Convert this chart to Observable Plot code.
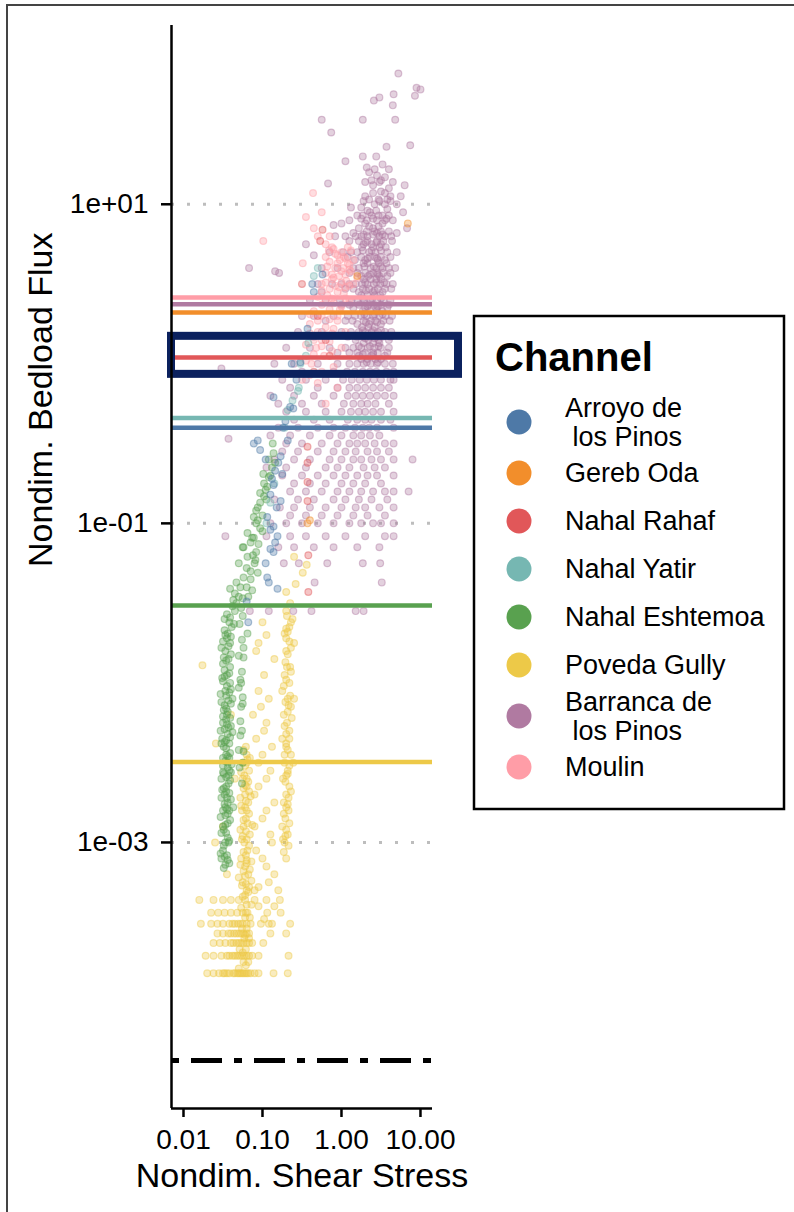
<!DOCTYPE html>
<html><head><meta charset="utf-8">
<script src="https://cdn.jsdelivr.net/npm/d3@7"></script>
<script src="https://cdn.jsdelivr.net/npm/@observablehq/plot@0.6"></script>
<style>
body{margin:0;background:#fff;}
#wrap{position:relative;width:794px;height:1212px;overflow:hidden;font-family:"Liberation Sans",Arial,sans-serif;}
#border{position:absolute;left:6px;top:4px;width:2000px;height:2000px;border-left:2px solid #444;border-top:2px solid #444;}
#chart{position:absolute;left:0;top:0;}
#legend{position:absolute;left:0;top:0;}
</style></head><body>
<div id="wrap"><div id="border"></div><div id="chart"></div><svg id="legend" width="794" height="1212"></svg></div>
<script>
// ---- categories & colours ----
const channels = ["Arroyo de los Pinos","Gereb Oda","Nahal Rahaf","Nahal Yatir","Nahal Eshtemoa","Poveda Gully","Barranca de los Pinos","Moulin"];
const legendLabels = [["Arroyo de"," los Pinos"],["Gereb Oda"],["Nahal Rahaf"],["Nahal Yatir"],["Nahal Eshtemoa"],["Poveda Gully"],["Barranca de"," los Pinos"],["Moulin"]];
const channelColors = ["#4e79a7","#f28e2b","#e15759","#76b7b2","#59a14f","#edc948","#b07aa1","#ff9da7"];
// horizontal reference lines (nondim. bedload flux), one per channel
const channelLineFlux = [0.398, 2.10, 1.094, 0.457, 0.0306, 0.00319, 2.36, 2.60];
const detectionFlux = 4.3e-5;          // dot-dash line
const highlightBox = {x1: 0.00705, x2: 30.3, y1: 0.859, y2: 1.487};
// ticks
const xTicks = [0.01, 0.1, 1, 10];
const xTickLabels = ["0.01","0.10","1.00","10.00"];
const yTicks = [10, 0.1, 0.001];
const yTickLabels = ["1e+01","1e-01","1e-03"];
const xDomain = [0.00705, 14.2];
const yDomain = [2.15e-5, 132];

// ---- points: each row = [log10 flux, log10 shear stress, log10 shear stress, ...] ----
const arroyo = [[0.56,-0.24],[0.50,-0.37],[0.45,-0.35],[0.22,-0.43],[0.01,-0.52],[0.0,-0.63],[-0.10,-0.57],[-0.21,-0.86],[-0.27,-0.65],[-0.28,-0.61],[-0.36,-0.71],[-0.48,-1.06,-0.68],[-0.50,-1.11],[-0.54,-1.03],[-0.58,-0.77],[-0.60,-0.96],[-0.67,-0.84],[-0.69,-0.75],[-0.76,-0.86],[-0.82,-0.90],[-0.86,-0.77],[-0.96,-0.94],[-1.02,-0.86],[-1.04,-0.90],[-1.08,-0.81],[-1.16,-0.90],[-1.18,-0.86],[-1.34,-0.94],[-1.37,-0.92],[-1.41,-0.81],[-1.49,-1.20],[-1.62,-1.18],[-0.40,-0.74],[-0.62,-0.80],[-0.72,-0.88],[-0.90,-0.82],[-1.12,-0.84],[-1.25,-0.96]];
const gereb = [[0.88,0.84],[-1.0,-0.43],[-0.98,-0.40],[0.55,0.2]];
const rahaf = [[0.84,-0.24],[0.77,-0.27],[0.5,-0.5],[0.3,-0.3],[0.15,-0.2],[0.05,-0.15],[-0.05,-0.35],[-0.52,-0.43],[-0.62,-0.43],[-0.74,-0.43],[-0.86,-0.43],[-1.2,-0.42],[-1.43,-0.42]];
const yatir = [[0.6,-0.3],[0.55,-0.35],[0.13,-0.42],[0.05,-0.45],[0.0,-0.52],[-0.15,-0.54],[-0.17,-0.55],[-0.23,-0.62],[-0.29,-0.68],[-0.4,-0.72],[-0.75,-0.85],[-0.87,-0.9],[-1.0,-0.95]];
const eshtemoa = [[-0.50,-0.87],[-0.56,-0.86],[-0.60,-0.92],[-0.62,-0.84],[-0.69,-0.99],[-0.70,-0.9],[-0.71,-0.92],[-0.77,-0.94],[-0.79,-0.96],[-0.81,-1.03],[-0.85,-0.95],[-0.87,-1.03],[-0.90,-1.06],[-0.95,-1.0],[-0.96,-1.11],[-0.98,-1.06],[-1.03,-1.03],[-1.05,-1.0],[-1.06,-1.19],[-1.09,-1.13,-1.11],[-1.13,-1.05],[-1.15,-1.24,-1.25],[-1.18,-1.08],[-1.21,-1.19],[-1.23,-1.09],[-1.25,-1.30,-1.1],[-1.30,-1.15],[-1.31,-1.06],[-1.34,-1.24],[-1.35,-1.15],[-1.40,-1.28,-1.2],[-1.41,-1.41],[-1.42,-1.13],[-1.46,-1.30,-1.18],[-1.48,-1.37],[-1.50,-1.33],[-1.55,-1.35],[-1.58,-1.25],[-1.59,-1.41],[-1.62,-1.42],[-1.65,-1.39],[-1.69,-1.44,-1.19],[-1.72,-1.45],[-1.75,-1.41],[-1.78,-1.24,-1.52],[-1.80,-1.47],[-1.84,-1.49,-1.24],[-1.88,-1.5],[-1.90,-1.41],[-1.95,-1.45],[-1.97,-1.51],[-1.98,-1.28],[-2.00,-1.41,-1.27],[-2.05,-1.47],[-2.07,-1.53],[-2.09,-1.25],[-2.11,-1.43],[-2.14,-1.48],[-2.15,-1.27],[-2.17,-1.49],[-2.20,-1.45],[-2.22,-1.41],[-2.24,-1.28],[-2.25,-1.5],[-2.28,-1.43],[-2.30,-1.53,-1.26],[-2.34,-1.41],[-2.35,-1.51],[-2.36,-1.46],[-2.40,-1.49],[-2.42,-1.30],[-2.44,-1.41],[-2.45,-1.46],[-2.50,-1.44,-1.25],[-2.52,-1.5],[-2.55,-1.42],[-2.57,-1.49],[-2.60,-1.52],[-2.61,-1.41],[-2.65,-1.46],[-2.67,-1.51],[-2.70,-1.48],[-2.75,-1.44],[-2.78,-1.37,-1.47],[-2.82,-1.44],[-2.84,-1.53],[-2.86,-1.41],[-2.90,-1.5],[-2.92,-1.49],[-2.97,-1.44],[-3.00,-1.47],[-3.05,-1.5],[-3.07,-1.53],[-3.10,-1.52],[-3.11,-1.44],[-3.13,-1.42],[-3.16,-1.49],
[-1.52,-1.38],[-1.57,-1.45],[-1.63,-1.36],[-1.67,-1.48],[-1.71,-1.4],[-1.74,-1.5],[-1.77,-1.43],[-1.82,-1.4],[-1.86,-1.46],[-1.92,-1.48],[-1.94,-1.42],[-1.99,-1.5],[-2.02,-1.45],[-2.04,-1.4],[-2.08,-1.46],[-2.12,-1.52],[-2.13,-1.4],[-2.18,-1.44],[-2.21,-1.5],[-2.23,-1.46],[-2.27,-1.4],[-2.29,-1.48],[-2.32,-1.44],[-2.38,-1.42,-1.52],[-2.41,-1.46],[-2.47,-1.42,-1.5],[-2.49,-1.47],[-2.53,-1.44],[-2.56,-1.5,-1.4],[-2.59,-1.46],[-2.63,-1.43],[-2.66,-1.49],[-2.69,-1.42],[-2.72,-1.52,-1.45],[-2.76,-1.48],[-2.80,-1.42,-1.5],[-2.83,-1.47],[-2.88,-1.44],[-2.94,-1.46,-1.52],[-2.99,-1.42],[-3.02,-1.49],[-3.08,-1.45],[-3.14,-1.47],
[-1.53,-1.27],[-1.63,-1.29],[-1.73,-1.26],[-1.83,-1.3],[-1.93,-1.26],[-2.03,-1.3],[-2.13,-1.25],[-2.33,-1.28],[-2.43,-1.24],[-2.53,-1.29],[-2.63,-1.26],
[-0.65,-0.88],[-0.75,-0.98],[-0.83,-0.98],[-0.92,-1.08],[-1.0,-1.08],[-1.12,-1.15],[-1.20,-1.12],[-1.28,-1.2],[-1.37,-1.33],[-1.44,-1.35],[-1.47,-1.25],
[-1.60,-1.48],[-1.70,-1.47],[-1.85,-1.43],[-1.96,-1.48],[-2.06,-1.42],[-2.16,-1.46],[-2.26,-1.45],[-2.37,-1.48],[-2.46,-1.44],[-2.58,-1.43],[-2.68,-1.46],[-2.79,-1.45],[-2.89,-1.47],[-3.00,-1.43],[-3.09,-1.48],[-2.73,-1.4],[-2.51,-1.39],[-2.31,-1.38],[-2.10,-1.38]];
const poveda = [[-1.21,-0.6],[-1.26,-0.44],[-1.31,-0.49],[-1.38,-0.58],[-1.43,-0.7],[-1.50,-0.65],[-1.55,-0.7],[-1.60,-0.62],[-1.62,-1.0],[-1.65,-0.66],[-1.68,-0.68],[-1.70,-0.95],[-1.72,-0.7],[-1.75,-0.6],[-1.78,-0.64],[-1.80,-0.7,-1.08],[-1.85,-0.85],[-1.89,-1.76],[-1.90,-0.65],[-1.95,-0.72],[-2.00,-0.66],[-2.05,-1.05,-0.75],[-2.10,-0.92,-0.68],[-2.15,-0.64],[-2.20,-1.12,-0.73],[-2.25,-0.69],[-2.30,-0.98,-0.66],[-2.35,-0.75,-0.66],[-2.38,-1.59],[-2.40,-0.88,-0.7,-1.21],[-2.45,-0.64,-0.72,-1.2],[-2.48,-1.19],[-2.50,-1.05,-0.72,-1.25],[-2.55,-0.68,-1.17],[-2.58,-1.23,-0.7],[-2.60,-0.95,-0.74,-1.35,-1.25,-1.2],[-2.65,-0.66,-1.2],[-2.68,-1.17,-0.64],[-2.70,-1.1,-0.7,-1.22],[-2.72,-1.28],[-2.75,-0.85,-0.73,-1.18],[-2.78,-1.22,-0.7],[-2.80,-0.67,-1.26],[-2.85,-1.0,-0.71,-1.21],[-2.88,-1.19,-0.66],[-2.90,-0.75,-1.5,-1.24],[-2.92,-1.28],[-2.95,-0.9,-0.68,-1.16],[-2.98,-1.26,-0.74],[-3.00,-1.6,-0.72,-1.23],[-3.05,-1.08,-1.19],[-3.08,-1.21],[-3.10,-0.7,-1.27],[-3.12,-1.14],[-3.15,-0.95,-1.22],[-3.18,-1.24],[-3.20,-0.85,-1.45,-1.18],[-3.22,-1.3],[-3.25,-1.25],[-3.28,-1.05,-1.17],[-3.30,-0.8,-1.2],[-3.33,-1.22],
[-3.36,-1.8,-1.62,-1.5,-1.4,-1.3,-1.22,-1.1,-0.95,-0.78],
[-3.44,-1.65,-1.56,-1.48,-1.4,-1.32,-1.25,-1.19,-0.94,-0.77],
[-3.51,-1.78,-1.65,-1.57,-1.5,-1.42,-1.35,-1.28,-1.2,-1.15,-1.02,-0.92,-0.88,-0.65,-1.31,-1.25,-1.38],
[-3.57,-1.57,-1.5,-1.43,-1.36,-1.3,-1.24,-1.17,-0.9,-0.7,-1.27,-1.2,-1.33,-1.4],
[-3.63,-1.62,-1.54,-1.47,-1.4,-1.33,-1.27,-1.2,-1.13,-0.99,-1.3,-1.24,-1.17,-1.37],
[-3.71,-1.72,-1.62,-1.52,-1.45,-1.38,-1.32,-1.26,-1.2,-1.13,-1.05,-0.67,-1.35,-1.29,-1.23,-1.17,-1.42],
[-3.82,-1.7,-1.62,-1.55,-1.48,-1.42,-1.37,-1.32,-1.28,-1.24,-1.2,-1.15,-1.1,-1.05,-0.86,-0.68,-1.35,-1.3,-1.26,-1.22,-1.18,-1.45,-1.5],
[-2.42,-1.24],[-2.47,-1.16],[-2.52,-1.22],[-2.56,-1.27],[-2.62,-1.18],[-2.66,-1.24],[-2.71,-1.15],[-2.74,-1.21],[-2.77,-1.27],[-2.82,-1.17],[-2.86,-1.24],[-2.89,-1.13],[-2.93,-1.21],[-2.96,-1.25],[-3.02,-1.17],[-3.06,-1.24],[-3.11,-1.2],[-3.14,-1.28],[-3.17,-1.16],[-3.21,-1.22],[-3.24,-1.14],[-3.27,-1.26],[-3.31,-1.18],[-3.34,-1.25],[-3.39,-1.2,-1.14],[-3.41,-1.27],[-3.47,-1.22,-1.16],[-3.54,-1.2,-1.26],[-3.60,-1.23,-1.17],[-3.67,-1.21,-1.29],[-3.75,-1.24,-1.18],[-3.79,-1.3],
[-2.50,-1.2],[-2.64,-1.22],[-2.80,-1.2],[-2.98,-1.2],[-3.13,-1.2],[-3.26,-1.21],[-3.44,-1.21],[-3.58,-1.22],[-3.69,-1.25],[-3.77,-1.21],
[-1.58,-0.69],[-1.62,-0.64],[-1.69,-0.72],[-1.74,-0.66],[-1.82,-0.68],[-1.87,-0.71],[-1.93,-0.64],[-1.98,-0.7],[-2.02,-0.73],[-2.08,-0.65],[-2.12,-0.71],[-2.18,-0.68],[-2.22,-0.63],[-2.27,-0.72],[-2.32,-0.7],[-2.42,-0.68],[-2.52,-0.66],[-2.62,-0.71],[-2.72,-0.67],[-2.82,-0.73],[-2.92,-0.7],[-3.02,-0.67],[-3.06,-0.73],
[-1.66,-0.7],[-1.90,-0.69],[-2.14,-0.67],[-2.38,-0.7],[-2.57,-0.68],[-2.76,-0.68],[-2.96,-0.71],[-2.10,-0.6],[-2.50,-0.61],
[-2.45,-1.0],[-2.55,-0.9],[-2.65,-1.05],[-2.80,-0.95],[-2.90,-1.1],[-3.00,-0.88],[-3.10,-1.0],[-3.25,-0.92],[-3.30,-1.1],[-2.35,-1.08],[-2.25,-0.95],[-2.15,-1.02],[-1.95,-0.98],[-1.75,-1.05],[-3.40,-1.05,-0.85],[-3.48,-0.98],[-2.20,-1.4]];
const barranca = [[1.82,0.72],[1.73,0.95],[1.72,1.0],[1.69,0.66],[1.68,0.93],[1.67,0.48],[1.65,0.41],[1.62,0.65],[1.53,-0.25,0.27,0.68],[1.45,-0.13],[1.37,0.87],[1.36,0.57],[1.30,0.27,0.44],[1.27,0.05],[1.25,0.52],[1.23,0.32],[1.20,0.35],[1.18,0.45],[1.17,0.55],[1.13,-0.17],[1.12,0.4,0.8],[1.10,0.6],[1.08,0.5],[1.05,0.3,0.62,0.75],[1.00,0.42,0.55,0.7],[0.98,0.12,0.25],[0.97,0.58],[0.95,0.36,0.78],[0.93,0.2,0.47],[0.90,0.1,0.65],[0.88,0.0,0.3,0.52],[0.87,-0.1],[0.85,0.83,0.22,0.4],[0.82,0.7,0.15,0.45],[0.80,0.05,-0.08,0.18,0.25,0.33,0.48,0.55,0.63],[0.75,-0.45,0.28,0.38,0.5],[0.70,-0.15,0.02,0.12,0.2,0.35,0.43,0.58,0.7],[0.68,-0.35],[0.65,0.17,0.3,0.46,0.55],[0.60,-0.25,-0.05,0.15,0.22,0.37,0.44,0.52,0.6,0.68,-1.17],[0.58,-0.84],[0.57,-0.79],[0.55,0.25,0.34,0.48,0.58],[0.50,-0.3,-0.12,0.0,0.1,0.18,0.26,0.33,0.41,0.49,0.57,0.65],[0.45,-0.25,0.22,0.4,0.52],[0.40,-0.4,-0.2,-0.02,0.13,0.2,0.29,0.36,0.45,0.53,0.62],[0.35,0.15,0.3,0.44,0.58],[0.30,-0.5,-0.35,-0.1,0.08,0.17,0.25,0.32,0.4,0.48,0.56,0.64],[0.25,0.2,0.35,0.5],[0.20,-0.55,-0.25,0.0,0.12,0.22,0.3,0.38,0.46,0.55,0.63],[0.15,0.18,0.34,0.47,0.6],[0.10,-0.7,-0.4,-0.15,0.05,0.15,0.25,0.33,0.42,0.5,0.6],[0.05,0.22,0.38,0.55],[0.00,-0.85,-0.6,-0.3,-0.05,0.1,0.2,0.28,0.37,0.45,0.55,0.65],[-0.03,-1.52],[-0.10,-0.75,-0.45,-0.2,0.02,0.13,0.23,0.32,0.41,0.5,0.62,0.66],[-0.20,-0.9,-0.6,-0.35,-0.1,0.08,0.18,0.27,0.36,0.45,0.55,0.66],[-0.30,-0.7,-0.45,-0.2,0.0,0.12,0.22,0.3,0.4,0.5,0.66],[-0.40,-0.8,-0.55,-0.3,-0.1,0.05,0.17,0.27,0.35,0.45,0.66],[-0.47,-1.43],[-0.50,-0.7,-0.5,-0.25,-0.05,0.1,0.2,0.3,0.42,0.55,0.66],[-0.60,-0.85,-0.6,-0.4,-0.15,0.0,0.15,0.25,0.38,0.5,0.66,0.9],[-0.70,-0.75,-0.5,-0.3,-0.1,0.05,0.2,0.33,0.45,0.66],[-0.80,-0.65,-0.45,-0.25,-0.05,0.1,0.25,0.4,0.55,0.66,0.85],[-0.90,-0.78,-0.6,-0.4,-0.2,0.0,0.18,0.3,0.48,0.66],[-1.00,-0.9,-0.7,-0.5,-0.3,-0.1,0.1,0.25,0.4,0.5,0.66],[-1.08,-1.47,-0.95,-0.65,-0.45,-0.2,0.05,0.3,0.55,0.66],[-1.15,-0.8,-0.6,-0.35,-0.1,0.2,0.48],[-1.25,-0.73,-0.54,-0.18,0.27,0.49],[-1.37,-0.34,0.51],[-1.55,-1.16,-0.92,-0.61,-0.38,0.18,0.28],
[0.93,0.27,0.38,0.52,0.6],[0.83,0.32,0.42,0.5,0.6],[0.77,0.1,0.22,0.33,0.45,0.53,0.64],[0.73,0.26,0.4,0.48,0.56],[0.67,0.08,0.25,0.36,0.42,0.5,0.62],[0.63,0.28,0.33,0.47,0.57],[0.57,0.1,0.2,0.3,0.4,0.45,0.53,0.62],[0.53,0.28,0.37,0.44,0.5],[0.47,0.05,0.15,0.27,0.35,0.46,0.55,0.63],[0.43,0.25,0.33,0.42,0.49],[0.37,0.0,0.1,0.22,0.34,0.41,0.5,0.6],[0.33,0.27,0.36,0.45,0.52],[0.27,-0.2,0.05,0.14,0.28,0.37,0.43,0.53,0.61],[0.23,0.26,0.34,0.42],[0.17,-0.35,0.08,0.2,0.27,0.36,0.44,0.52,0.62],[0.13,0.28,0.4,0.48],[0.07,-0.05,0.1,0.2,0.3,0.4,0.46,0.58],[0.03,0.25,0.33,0.43,0.5],[-0.05,-0.5,-0.1,0.07,0.17,0.27,0.36,0.44,0.57,0.66],[-0.15,-0.65,-0.3,-0.05,0.1,0.2,0.3,0.4,0.5,0.6],[-0.25,-0.8,-0.5,-0.25,0.03,0.15,0.25,0.33,0.43,0.6],[-0.35,-0.6,-0.35,-0.15,0.08,0.2,0.3,0.38,0.5,0.62],[-0.45,-0.9,-0.65,-0.4,-0.15,0.0,0.15,0.25,0.36,0.48],[-0.55,-0.75,-0.55,-0.3,-0.1,0.05,0.18,0.33,0.45,0.6],[-0.65,-0.95,-0.7,-0.45,-0.2,-0.05,0.1,0.28,0.42,0.55],[-0.75,-0.6,-0.4,-0.2,0.0,0.15,0.3,0.5],[-0.85,-0.85,-0.55,-0.35,-0.1,0.05,0.22,0.38,0.58],[-0.95,-0.65,-0.45,-0.25,-0.05,0.15,0.33,0.55],[1.03,0.35,0.47,0.58],[1.15,0.38,0.5],[0.90,0.45,0.55,0.32],
[0.96,0.33,0.44],[0.91,0.25,0.4,0.57],[0.86,0.35,0.47],[0.81,0.28,0.4,0.52],[0.76,0.31,0.44],[0.71,0.27,0.38,0.5],[0.66,0.33,0.45],[0.61,0.29,0.41,0.5],[0.56,0.36,0.46],[0.51,0.3,0.44,0.54],[0.46,0.31,0.42],[0.41,0.27,0.39,0.5],[0.36,0.33,0.46],[0.31,0.29,0.42,0.52],[0.26,0.31,0.45],[0.21,0.27,0.4,0.5],[0.16,0.3,0.42],[0.11,0.22,0.36,0.47],[0.06,0.27,0.4],[0.01,0.32,0.46],[1.22,0.42,0.6],[1.14,0.3,0.48,0.65],[1.07,0.4,0.55],[1.02,0.48,0.62,0.28]];
const moulin = [[1.07,-0.36],[0.92,-0.45],[0.77,-0.99],[0.75,-0.2],[0.73,-0.12,0.08],[0.72,-0.1],[0.70,0.0],[0.68,-0.05],[0.66,0.05],[0.65,-0.02,0.15],[0.64,-0.15],[0.63,-0.49],[0.62,0.1],[0.60,-0.08,0.02],[0.58,0.0,0.12],[0.57,-0.2],[0.55,-0.03],[0.54,-0.1,0.2],[0.53,-0.12],[0.52,0.06],[0.50,-0.25,0.15],[0.48,0.05,-0.03],[0.47,-0.15],[0.45,-0.05],[0.44,0.03],[0.43,-0.18],[0.42,-0.3],[0.40,-0.2,0.1],[0.38,-0.1],[0.36,0.0],[0.33,-0.35],[0.30,-0.25,-0.05],[0.28,-0.15],[0.25,-0.4],[0.22,-0.1],[0.20,-0.3,0.05],[0.18,-0.2],[0.15,-0.35,-0.25],[0.12,-0.45],[0.10,-0.32,0.0],[0.08,-0.12],[0.05,-0.22],[0.02,-0.45],[0.00,-0.38],[-0.02,-0.1],[-0.05,-0.25],[-0.07,-0.4],[-0.10,-0.5],[-0.12,-0.3],[-0.15,-0.05],[-0.25,-0.2],
[0.71,-0.16,0.12],[0.69,-0.08],[0.67,0.03,-0.2],[0.63,-0.05,0.08],[0.61,-0.18],[0.59,0.1],[0.56,-0.12,0.05],[0.51,-0.2,0.0],[0.49,-0.08,0.1],[0.46,-0.25],[0.41,-0.12,0.05],[0.37,-0.25],[0.34,-0.15,-0.02],[0.31,-0.4],[0.27,-0.3,-0.05],[0.23,-0.2],[0.19,-0.4,-0.12],[0.14,-0.15],[0.11,-0.25],[0.06,-0.35],[0.80,-0.3,-0.15],[0.85,-0.35],[0.95,-0.25]];

const seriesRows = {"Barranca de los Pinos": barranca, "Poveda Gully": poveda, "Nahal Eshtemoa": eshtemoa, "Moulin": moulin, "Nahal Rahaf": rahaf, "Nahal Yatir": yatir, "Arroyo de los Pinos": arroyo, "Gereb Oda": gereb};
const points = Object.entries(seriesRows).flatMap(([name, rows]) =>
  rows.flatMap(([ly, ...lxs]) => lxs.map(lx => ({channel: name, tau: 10 ** lx, flux: 10 ** ly}))));
const lineRows = channels.map((c, i) => ({channel: c, flux: channelLineFlux[i]}));

const chart = Plot.plot({
  width: 480, height: 1212,
  marginLeft: 171, marginRight: 48, marginTop: 25, marginBottom: 104,
  style: {fontFamily: "'Liberation Sans', Arial, sans-serif", color: "black", background: "transparent"},
  x: {type: "log", domain: xDomain},
  y: {type: "log", domain: yDomain},
  color: {domain: channels, range: channelColors},
  marks: [
    Plot.gridY(yTicks, {stroke: "#bdbdbd", strokeOpacity: 1, strokeWidth: 3, strokeDasharray: "3,13"}),
    Plot.dot(points, {x: "tau", y: "flux", r: 3.4, fill: "channel", stroke: "channel", fillOpacity: 0.35, strokeOpacity: 0.45, strokeWidth: 1.2}),
    Plot.ruleY(lineRows, {y: "flux", stroke: "channel", strokeWidth: 4.5}),
    Plot.ruleY([detectionFlux], {stroke: "black", strokeWidth: 5, strokeDasharray: "8,12,31,12"}),
    Plot.rect([highlightBox], {x1: "x1", x2: "x2", y1: "y1", y2: "y2", fill: "none", stroke: "#0b215e", strokeWidth: 8}),
    Plot.ruleX([xDomain[0]], {stroke: "black", strokeWidth: 2.5}),
    Plot.ruleY([yDomain[0]], {stroke: "black", strokeWidth: 2.5}),
    Plot.axisX({ticks: xTicks, tickFormat: d => xTickLabels[xTicks.indexOf(d)], tickSize: 9, tickPadding: 12, fontSize: 28, strokeWidth: 2.5, label: null}),
    Plot.axisY({ticks: yTicks, tickFormat: d => yTickLabels[yTicks.indexOf(d)], tickSize: 10, tickPadding: 13, fontSize: 28, strokeWidth: 2.5, label: null}),
    Plot.text(["Nondim. Shear Stress"], {text: d => d, frameAnchor: "bottom", dy: 68, fontSize: 34, lineAnchor: "middle"}),
    Plot.text(["Nondim. Bedload Flux"], {text: d => d, frameAnchor: "left", dx: -130, rotate: -90, fontSize: 34, lineAnchor: "middle"})
  ]
});
document.getElementById("chart").appendChild(chart);

// ---- legend ----
const lg = d3.select("#legend").style("font-family", "'Liberation Sans', Arial, sans-serif");
lg.append("rect").attr("x", 474).attr("y", 316).attr("width", 310).attr("height", 493)
  .attr("fill", "white").attr("stroke", "black").attr("stroke-width", 2.5);
lg.append("text").attr("x", 495).attr("y", 371).attr("font-size", 40).attr("font-weight", "bold").text("Channel");
let yy = 395;
legendLabels.forEach((lines, i) => {
  const h = lines.length === 2 ? 54 : 48;
  const cy = yy + h / 2;
  lg.append("circle").attr("cx", 519).attr("cy", cy).attr("r", 12.5).attr("fill", channelColors[i]);
  const t = lg.append("text").attr("font-size", 27).style("white-space", "pre");
  lines.forEach((s, j) => {
    t.append("tspan").attr("x", 565).attr("y", cy + 9 - (lines.length - 1) * 14.5 + j * 29).text(s);
  });
  yy += h;
});
</script>
</body></html>
